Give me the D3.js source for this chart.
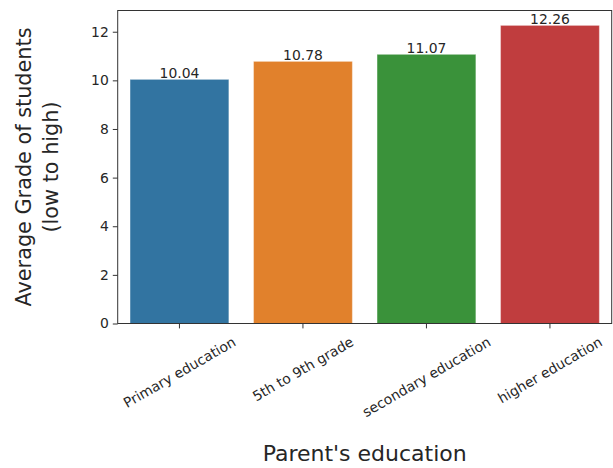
<!DOCTYPE html>
<html><head><meta charset="utf-8">
<script src="https://cdn.jsdelivr.net/npm/d3@7"></script>
<style>body{margin:0;background:#fff;} text{font-family:"DejaVu Sans",sans-serif;fill:#262626;}</style>
</head><body>
<svg id="c" width="613" height="468"></svg>
<script>
const categories = ["Primary education","5th to 9th grade","secondary education","higher education"];
const values = [10.04, 10.78, 11.07, 12.26];
const valueLabels = ["10.04","10.78","11.07","12.26"];
const yTicks = [0,2,4,6,8,10,12];
const colors = ["#3274a1","#e1812c","#3a923a","#c03d3e"];

const svg = d3.select("#c");
const L = 117.7, R = 611.7, T = 10.5, B = 323.5;
const x = d3.scaleBand().domain(categories).range([L,R]).paddingInner(0.2).paddingOuter(0.1);
const y = d3.scaleLinear().domain([0, d3.max(values)*1.05]).range([B,T]);

svg.selectAll("rect.bar").data(values).enter().append("rect")
  .attr("class","bar")
  .attr("x",(d,i)=>x(categories[i]))
  .attr("width",x.bandwidth())
  .attr("y",d=>y(d))
  .attr("height",d=>B-y(d))
  .attr("fill",(d,i)=>colors[i])
  .attr("stroke","rgba(255,255,255,0.35)").attr("stroke-width",1);

const fs = 13.9;
// value labels
svg.selectAll("text.val").data(values).enter().append("text")
  .attr("class","val")
  .attr("x",(d,i)=>x(categories[i])+x.bandwidth()/2)
  .attr("y",d=>y(d)-1)
  .attr("text-anchor","middle")
  .attr("font-size",fs+"px")
  .text((d,i)=>valueLabels[i]);

// frame
svg.append("rect").attr("x",L).attr("y",T).attr("width",R-L).attr("height",B-T)
  .attr("fill","none").attr("stroke","#333").attr("stroke-width",1);

// y axis
const ya = svg.append("g").attr("transform",`translate(${L},0)`)
  .call(d3.axisLeft(y).tickValues(yTicks).tickSize(4.9).tickPadding(4).tickFormat(d3.format("d")));
ya.select(".domain").remove();
ya.selectAll("line").attr("stroke","#333");
ya.selectAll("text").attr("font-size",fs+"px").attr("font-family","DejaVu Sans").attr("fill","#262626");

// x axis
const xa = svg.append("g").attr("transform",`translate(0,${B})`)
  .call(d3.axisBottom(x).tickSize(4.9).tickFormat(""));
xa.select(".domain").remove();
xa.selectAll("line").attr("stroke","#333");

// rotated x labels (matplotlib style: rotation 30, ha center, va top)
categories.forEach(c=>{
  const cx = x(c)+x.bandwidth()/2;
  const t = svg.append("text").attr("font-size",fs+"px").attr("text-anchor","middle")
    .attr("dominant-baseline","central").text(c);
  const w = t.node().getComputedTextLength();
  const h = fs*1.17;
  const a = 30*Math.PI/180;
  const bh = w*Math.sin(a) + h*Math.cos(a);
  const cy = B + 4.9 + 5 + bh/2;
  t.attr("transform",`translate(${cx},${cy}) rotate(-30)`);
});

// axis labels
svg.append("text").attr("x",(L+R)/2).attr("y",461).attr("text-anchor","middle")
  .attr("font-size","22px").text("Parent's education");
const yl = svg.append("text").attr("transform",`translate(31,${(T+B)/2}) rotate(-90)`)
  .attr("text-anchor","middle").attr("font-size","20.8px");
yl.append("tspan").attr("x",0).attr("dy","0").text("Average Grade of students");
yl.append("tspan").attr("x",0).attr("dy","1.3em").text("(low to high)");
</script>
</body></html>
